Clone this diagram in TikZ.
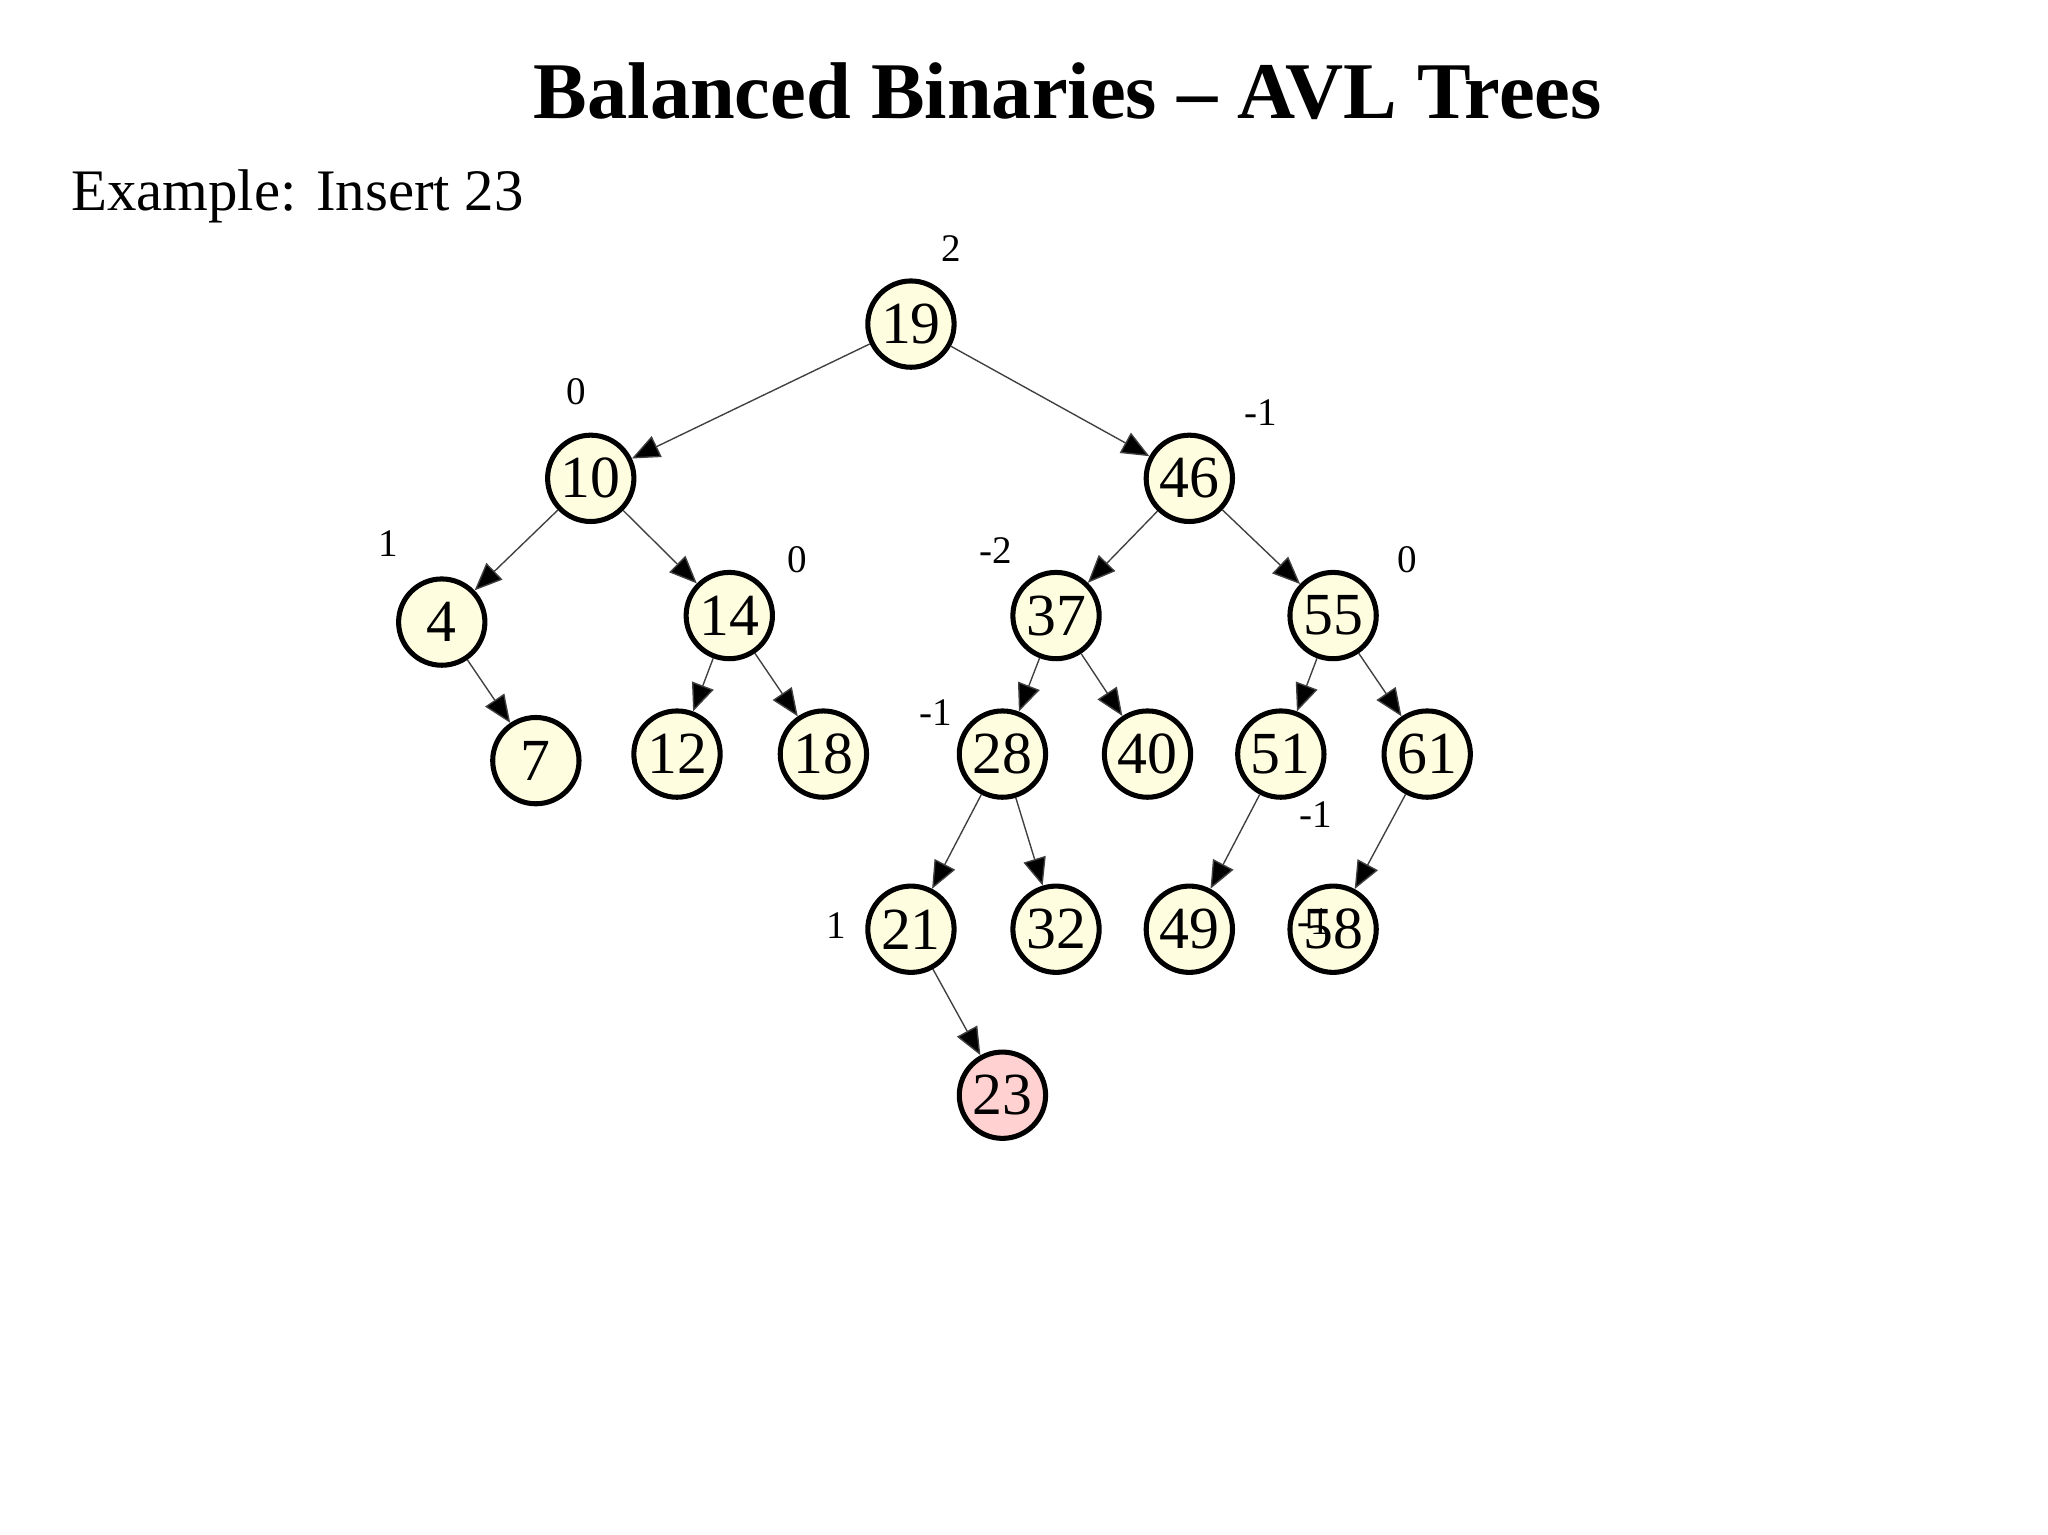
\documentclass[tikz,border=0pt]{standalone}
\usepackage{fontspec}
\setmainfont{Liberation Serif}
\usetikzlibrary{arrows.meta}
\begin{document}
\begin{tikzpicture}[x=0.01cm,y=-0.01cm,
 tn/.style={circle,draw=black,line width=1.1pt,fill=yellow!12,minimum size=0.66cm,inner sep=0pt,font=\fontsize{13}{13}\selectfont},
 ed/.style={draw=black!75,line width=0.3pt,-{Triangle[length=6pt,width=5pt,fill=black]}},
 bl/.style={font=\fontsize{8.5}{8.5}\selectfont}]
\useasboundingbox (0,0) rectangle (1567,1174);
\node[font=\fontsize{17.5}{17.5}\selectfont\bfseries] (t) at (817,70) {Balanced Binaries – AVL Trees};
\node[anchor=west,font=\fontsize{12.8}{12.8}\selectfont] (s) at (42,150) {Example: Insert 23};
\foreach \n/\x/\y in {19/697/248,10/452/366,46/910/366,4/338/476,14/558/471,37/808/471,55/1020/471,7/410/582,12/518/577,18/630/577,28/767/577,40/878/577,51/980/577,61/1092/577,21/697/711,32/808/711,49/910/711,58/1020/711}
 \node[tn] (n\n) at (\x,\y) {\n};
\node[tn,fill=red!18] (n23) at (767,838) {23};
\foreach \a/\b in {19/10,19/46,10/4,10/14,46/37,46/55,4/7,14/12,14/18,37/28,37/40,55/51,55/61,28/21,28/32,51/49,61/58,21/23}
 \draw[ed] (n\a) -- (n\b);
\foreach \t/\x/\y [count=\i] in {2/728/190,0/441/300,-1/965/316,1/297/416,0/610/428,-2/762/421,0/1077/428,-1/716/545,-1/1007/623,1/640/708,-1/1005/705}
 \node[bl] (b\i) at (\x,\y) {\t};
\end{tikzpicture}
\end{document}
